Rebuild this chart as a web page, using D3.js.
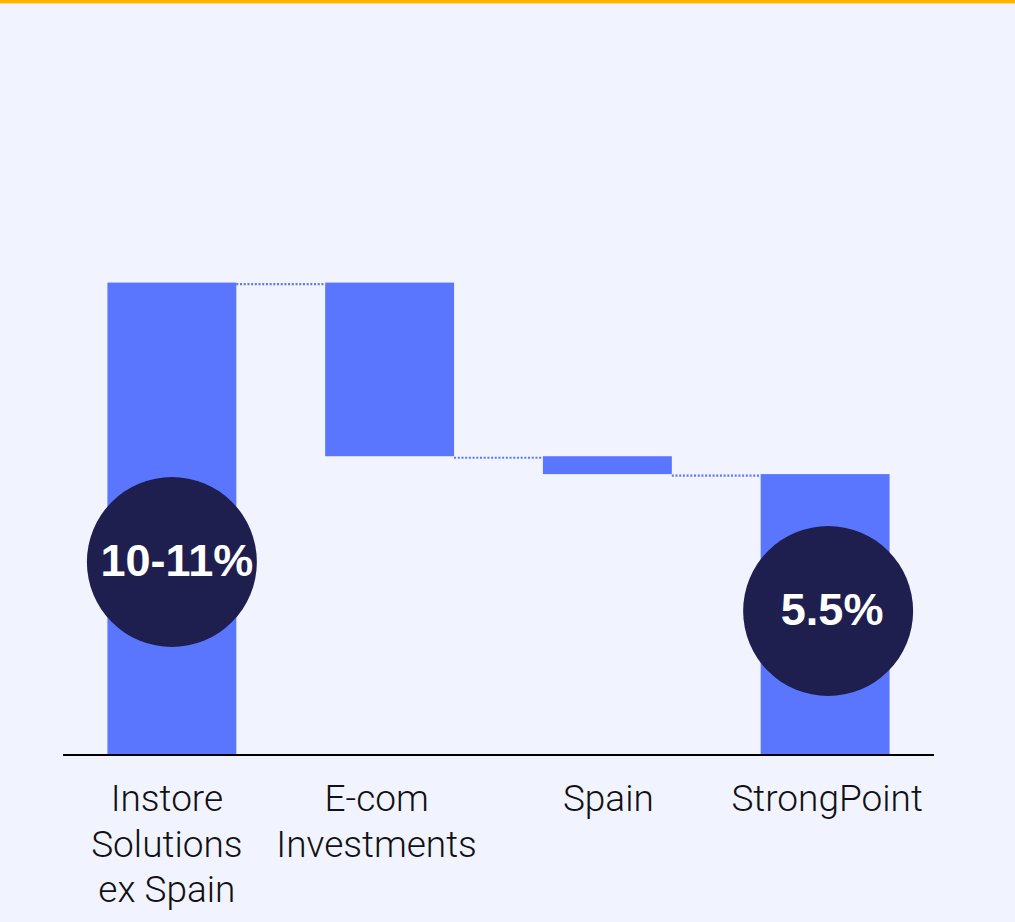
<!DOCTYPE html>
<meta charset="utf-8">
<html>
<head>
	<script src="https://d3js.org/d3.v7.min.js"></script>
	<style>
		body { margin: 0; background: #f1f4ff; }
		svg { display: block; }
	</style>
</head>
<body>

<div id="chart"></div>

<script>

// data
var categories = [["Instore", "Solutions", "ex Spain"], ["E-com", "Investments"], ["Spain"], ["StrongPoint"]];
var steps = [9.25, -3.4, -0.35, 5.5];   // first and last are totals, middle ones are deltas
var isTotal = [true, false, false, true];
var bubbleLabels = ["10-11%", null, null, "5.5%"];

var W = 1015, H = 922;
var margin = {top: 40, left: 63, right: 81, baseline: 755};

var svg = d3.select("#chart")
  .append("svg")
    .attr("width", W)
    .attr("height", H);

// background + top rule
svg.append("rect").attr("width", W).attr("height", H).attr("fill", "#f1f4ff");
svg.append("rect").attr("width", W).attr("height", 3).attr("fill", "#ffb300");
svg.append("rect").attr("y", 3).attr("width", W).attr("height", 1).attr("fill", "#ffd98a");

var x = d3.scaleBand()
  .domain(d3.range(categories.length))
  .range([margin.left, W - margin.right])
  .paddingInner(0.408)
  .paddingOuter(0.204);

var y = d3.scaleLinear()
  .domain([0, 14])
  .range([margin.baseline, margin.top]);

// build waterfall segments
var run = 0;
var segs = steps.map(function(v, i) {
  var s;
  if (isTotal[i]) { s = {i: i, lo: 0, hi: v}; run = v; }
  else { var prev = run; run = run + v; s = {i: i, lo: Math.min(prev, run), hi: Math.max(prev, run)}; }
  s.level = run;
  return s;
});

var barColor = "#5a76ff";

// dotted connectors
svg.selectAll("line.conn")
  .data(segs.slice(0, -1))
  .enter()
  .append("line")
  .attr("class", "conn")
  .attr("x1", function(d) { return x(d.i) + x.bandwidth(); })
  .attr("x2", function(d) { return x(d.i + 1); })
  .attr("y1", function(d) { return y(d.level) + 1.5; })
  .attr("y2", function(d) { return y(d.level) + 1.5; })
  .attr("stroke", barColor)
  .attr("stroke-width", 2.2)
  .attr("stroke-dasharray", "2,1.7");

svg.selectAll("rect.bar")
  .data(segs)
  .enter()
  .append("rect")
  .attr("class", "bar")
  .attr("x", function(d) { return x(d.i); })
  .attr("y", function(d) { return y(d.hi); })
  .attr("width", x.bandwidth())
  .attr("height", function(d) { return y(d.lo) - y(d.hi); })
  .attr("fill", barColor);

// baseline
svg.append("line")
  .attr("x1", margin.left).attr("x2", W - margin.right)
  .attr("y1", y(0)).attr("y2", y(0))
  .attr("stroke", "#000")
  .attr("stroke-width", 2);

// bubbles
var bubbleY = [562, null, null, 611];
var bub = svg.selectAll("g.bubble")
  .data(segs.filter(function(d) { return bubbleLabels[d.i]; }))
  .enter()
  .append("g")
  .attr("class", "bubble")
  .attr("transform", function(d) { return "translate(" + (x(d.i) + x.bandwidth() / 2 + (d.i === 3 ? 3 : 0)) + "," + bubbleY[d.i] + ")"; });

bub.append("circle")
  .attr("r", 85)
  .attr("fill", "#1f1f4f");

bub.append("text")
  .attr("x", function(d) { return d.i === 0 ? 5 : 4; })
  .attr("y", 14)
  .attr("text-anchor", "middle")
  .attr("fill", "#fff")
  .style("font-family", "'Liberation Sans', Arial, sans-serif")
  .style("font-weight", "bold")
  .style("font-size", "45px")
  .text(function(d) { return bubbleLabels[d.i]; });

// category labels
var labelShift = [-5, -13, 1, 2];
var labels = svg.selectAll("text.cat")
  .data(categories)
  .enter()
  .append("text")
  .attr("class", "cat")
  .attr("x", function(d, i) { return x(i) + x.bandwidth() / 2 + labelShift[i]; })
  .attr("y", 811)
  .attr("text-anchor", "middle")
  .attr("fill", "#111")
  .style("font-family", "Roboto, 'Liberation Sans', sans-serif")
  .style("font-weight", 300)
  .style("font-size", "37px");

labels.selectAll("tspan")
  .data(function(d) { return d; })
  .enter()
  .append("tspan")
  .attr("x", function() { return d3.select(this.parentNode).attr("x"); })
  .attr("dy", function(d, j) { return j === 0 ? 0 : 45.5; })
  .text(function(d) { return d; });

</script>

</body>
</html>
